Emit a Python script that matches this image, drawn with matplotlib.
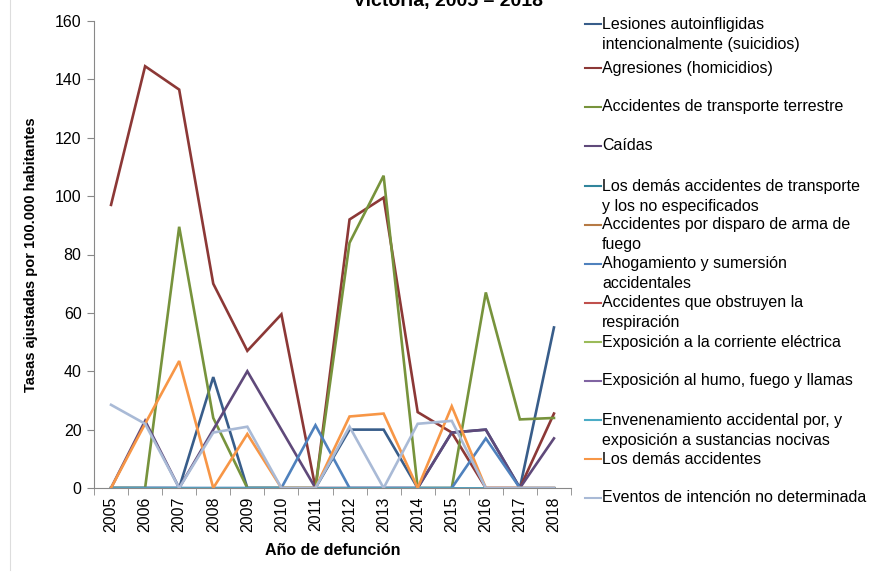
import numpy as np
import matplotlib.pyplot as plt
from matplotlib.lines import Line2D

plt.rcParams['font.family'] = ['Liberation Sans Narrow', 'Liberation Sans', 'DejaVu Sans']

years = [str(y) for y in range(2005, 2019)]

# tasas ajustadas por 100.000 habitantes
lesiones = [0, 0, 0, 38, 0, 0, 0, 20, 20, 0, 19, 20, 0, 55]
agresiones = [97, 144.5, 136.5, 70, 47, 59.5, 0, 92, 99.5, 26, 19, 0, 0, 25.5]
transporte = [0, 0, 89.5, 24, 0, 0, 0, 84, 107, 0, 0, 67, 23.5, 24]
caidas = [0, 23, 0, 20, 40, 20, 0, 0, 0, 0, 19, 20, 0, 17]
demas_transporte = [0] * 14
disparo = [0] * 14
ahogamiento = [0, 0, 0, 0, 0, 0, 21.5, 0, 0, 0, 0, 17, 0, 0]
obstruyen = [0] * 14
corriente = [0] * 14
humo = [0] * 14
envenenamiento = [0] * 14
demas_accidentes = [0, 22, 43.5, 0, 18.5, 0, 0, 24.5, 25.5, 0, 28, 0, 0, 0]
eventos = [28.5, 22, 0, 19, 21, 0, 0, 21, 0, 22, 23, 0, 0, 0]

labels = ['Lesiones autoinfligidas\nintencionalmente (suicidios)',
          'Agresiones (homicidios)',
          'Accidentes de transporte terrestre',
          'Caídas',
          'Los demás accidentes de transporte\ny los no especificados',
          'Accidentes por disparo de arma de\nfuego',
          'Ahogamiento y sumersión\naccidentales',
          'Accidentes que obstruyen la\nrespiración',
          'Exposición a la corriente eléctrica',
          'Exposición al humo, fuego y llamas',
          'Envenenamiento accidental por, y\nexposición a sustancias nocivas',
          'Los demás accidentes',
          'Eventos de intención no determinada']
series = [lesiones, agresiones, transporte, caidas, demas_transporte, disparo,
          ahogamiento, obstruyen, corriente, humo, envenenamiento,
          demas_accidentes, eventos]
colors = ['#385D8A', '#8C3836', '#77933C', '#5F497A', '#31859C', '#B67A45',
          '#4F81BD', '#C0504D', '#9BBB59', '#8064A2', '#4BACC6', '#F79646',
          '#A9BAD6']

W, H = 872, 576
fig = plt.figure(figsize=(W / 100, H / 100), dpi=100)
ax = fig.add_axes([94 / W, 1 - 488 / H, (571 - 94) / W, (488 - 21) / H])

x = np.arange(len(years))
for vals, c in zip(series, colors):
    ax.plot(x, vals, color=c, lw=1.9, solid_joinstyle='miter')

ax.set_xlim(-0.5, len(years) - 0.5)
ax.set_ylim(0, 160)
ax.set_yticks(range(0, 161, 20))
ax.set_xticks(x)
ax.set_xticklabels(years, rotation=90, fontsize=11.5)
ax.set_xticks(np.arange(-0.5, len(years)), minor=True)
ax.tick_params(axis='x', which='major', length=0, pad=6)
ax.tick_params(axis='x', which='minor', length=5, color='#888888')
ax.tick_params(axis='y', length=5, color='#888888', labelsize=11.5, pad=4)
for s in ['top', 'right']:
    ax.spines[s].set_visible(False)
for s in ['left', 'bottom']:
    ax.spines[s].set_color('#888888')

ax.set_ylabel('Tasas ajustadas por 100.000 habitantes', fontsize=10.5,
              fontweight='bold', labelpad=12)
ax.set_xlabel('Año de defunción', fontsize=11.5, fontweight='bold', labelpad=8)

# titulo, cortado arriba como en el original
fig.text(448 / W, 1 - 6 / H, 'Victoria, 2005 – 2018', ha='center',
         va='baseline', fontsize=14, fontweight='bold')

# leyenda a la derecha, una linea de texto por renglon
leg_y = [24, 68, 107, 146, 186, 225, 264, 303, 342, 381, 420, 459, 498]
for lab, c, yy in zip(labels, colors, leg_y):
    fy = 1 - yy / H
    fig.add_artist(Line2D([585 / W, 601 / W], [fy, fy], color=c, lw=1.5))
    for i, part in enumerate(lab.split('\n')):
        fig.text(602 / W, 1 - (yy + 20 * i) / H, part, ha='left',
                 va='center', fontsize=11.5)

fig.add_artist(Line2D([10 / W, 10 / W], [0.01, 1], color='#dddddd', lw=0.8))

fig.savefig('out.png', dpi=100)
